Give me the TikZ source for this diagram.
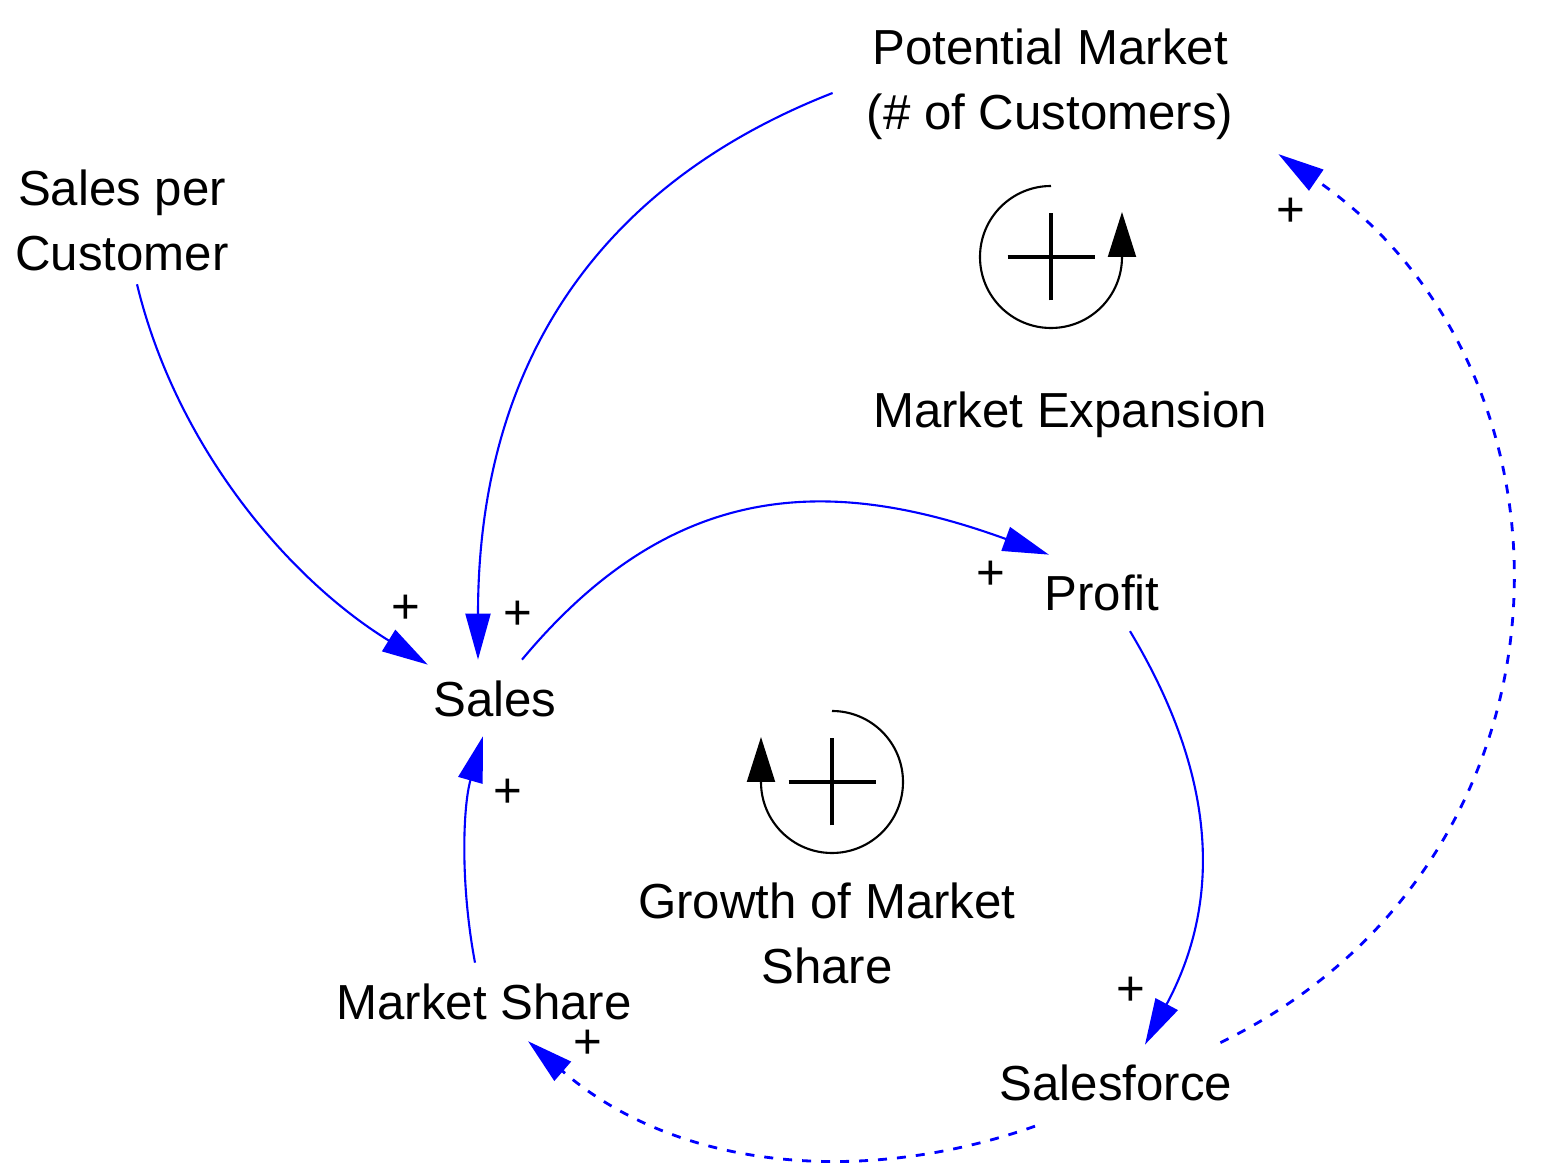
\documentclass[tikz,border=0pt]{standalone}
\usepackage{fontspec}
\setmainfont{Liberation Sans}
\usetikzlibrary{arrows.meta,calc}

\begin{document}
\begin{tikzpicture}[
    var/.style={inner sep=0pt, align=center, font=\fontsize{14pt}{18.5pt}\selectfont},
    sign/.style={inner sep=0pt, font=\fontsize{14pt}{18.5pt}\selectfont},
    link/.style={-{Triangle[length=4.6mm, width=2.5mm]}, blue, line width=0.6pt},
    delay/.style={link, dash pattern=on 0.9mm off 1mm, line width=0.8pt},
    loop/.style={-{Triangle[length=4.5mm, width=2.8mm]}, black, line width=0.6pt},
    polarity/.style={line width=1.4pt}
]
\useasboundingbox (0,0) rectangle (15.46,11.74);

% Variables
\node[var] (market) at (10.50,10.90) {Potential Market\\(\# of Customers)};
\node[var] (spc) at (1.22,9.54) {Sales per\\Customer};
\node[var, anchor=base] (sales) at (4.95,4.57) {Sales};
\node[var, anchor=base] (profit) at (11.02,5.63) {Profit};
\node[var, anchor=base] (share) at (4.84,1.54) {Market Share};
\node[var, anchor=base] (force) at (11.16,0.73) {Salesforce};

% Loop names
\node[var, anchor=base] (expansion) at (10.70,7.46) {Market Expansion};
\node[var] (growth) at (8.27,2.41) {Growth of Market\\Share};

% Market Expansion loop symbol
\coordinate (r1) at (10.51,9.17);
\draw[loop] ($(r1)+(0,0.71)$) arc[start angle=90, end angle=360, radius=0.71] -- ++(0,0.45);
\draw[polarity] ($(r1)+(-0.435,0)$) -- ($(r1)+(0.435,0)$);
\draw[polarity] ($(r1)+(0,-0.435)$) -- ($(r1)+(0,0.435)$);

% Growth of Market Share loop symbol
\coordinate (r2) at (8.32,3.92);
\draw[loop] ($(r2)+(0,0.71)$) arc[start angle=90, end angle=-180, radius=0.71] -- ++(0,0.45);
\draw[polarity] ($(r2)+(-0.435,0)$) -- ($(r2)+(0.435,0)$);
\draw[polarity] ($(r2)+(0,-0.435)$) -- ($(r2)+(0,0.435)$);

% Links
\draw[link] ([shift={(0.15,-0.13)}]spc.south) .. controls +(0.39,-1.61) and +(-1.41,0.87) .. ([shift={(-0.05,0.16)}]sales.north west);
\draw[link] ([shift={(-0.335,-0.09)}]market.west) .. controls +(-2.30,-0.90) and +(0,3.00) .. ([shift={(-0.17,0.21)}]sales.north);
\draw[link] ([shift={(0.27,0.21)}]sales.north) .. controls +(1.50,1.80) and +(-2.20,0.80) .. ([shift={(0.05,0.20)}]profit.north west);
\draw[link] ([shift={(0.28,-0.19)}]profit.south) .. controls +(0.90,-1.50) and +(0.75,1.40) .. ([shift={(0.29,0.20)}]force.north);
\draw[link] ([shift={(-0.09,0.21)}]share.north) .. controls +(-0.15,0.80) and +(-0.20,-0.70) .. ([shift={(-0.12,-0.18)}]sales.south);

% Delayed links
\draw[delay] ([shift={(-0.81,-0.24)}]force.south) .. controls +(-1.70,-0.60) and +(1.50,-1.30) .. ([shift={(0.44,-0.20)}]share.south);
\draw[delay] ([shift={(-0.125,0.22)}]force.north east) .. controls +(3.70,1.80) and +(3.20,-2.20) .. ([shift={(0.445,-0.14)}]market.south east);

% Polarities
\node[sign] (p1) at (4.06,5.65) {+};
\node[sign] (p2) at (5.18,5.59) {+};
\node[sign] (p3) at (9.91,5.99) {+};
\node[sign] (p4) at (5.08,3.81) {+};
\node[sign] (p5) at (11.31,1.83) {+};
\node[sign] (p6) at (5.88,1.30) {+};
\node[sign] (p7) at (12.91,9.62) {+};

\end{tikzpicture}
\end{document}
